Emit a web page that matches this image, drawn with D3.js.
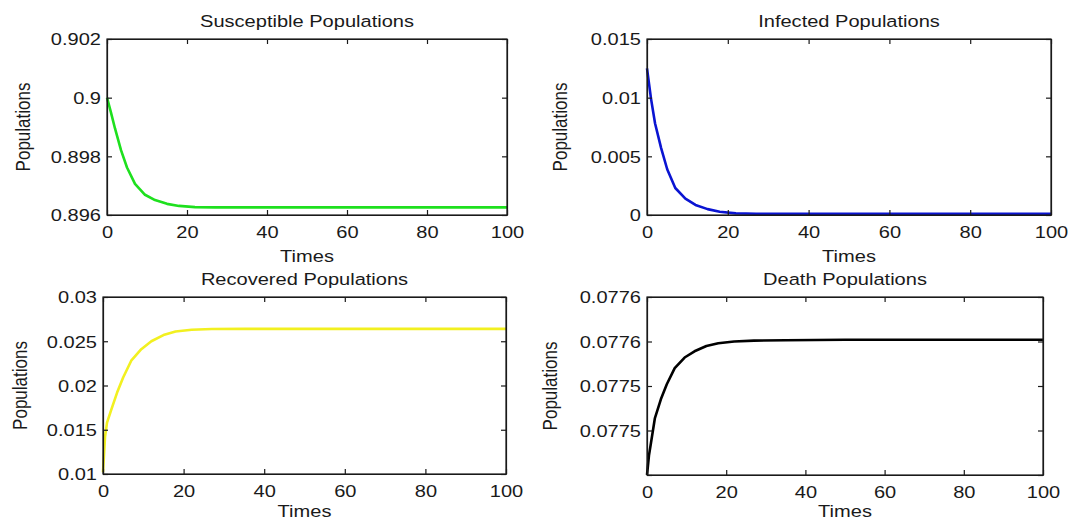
<!DOCTYPE html>
<html lang="en">
<head>
<meta charset="utf-8">
<script src="https://d3js.org/d3.v7.min.js"></script>
<style type="text/css">
body {
  margin: 0;
  background: #fff;
}
svg text {
  font-family: "Liberation Sans", Arial, sans-serif;
  fill: #1a1a1a;
}
.axis path,
.axis line {
  fill: none;
  stroke: #1a1a1a;
  stroke-width: 1.2;
}
.curve {
  fill: none;
  stroke-width: 2.6;
  stroke-linejoin: round;
}
</style>
<title>Populations</title>
</head>
<body>
<script type="text/javascript">
// time grid shared by all four series
var times = [0, 0.5, 1, 2, 3.5, 5, 7, 9.5, 12, 15, 18, 22, 27, 35, 50, 75, 100];

var susceptible = [0.9000, 0.89975, 0.89949, 0.89895, 0.89821, 0.89762, 0.89706, 0.89669, 0.89651,
                   0.89638, 0.89631, 0.89627, 0.89626, 0.89626, 0.89626, 0.89626, 0.89626];
var infected = [0.0125, 0.0112, 0.0099, 0.0078, 0.0057, 0.0039, 0.0023, 0.0014, 0.00086,
                0.0005, 0.00028, 0.00014, 0.00011, 0.0001, 0.0001, 0.0001, 0.0001];
var recovered = [0.0102, 0.0142, 0.0158, 0.0172, 0.0192, 0.0209, 0.0228, 0.0241, 0.0250,
                 0.0257, 0.0261, 0.0263, 0.02639, 0.0264, 0.0264, 0.0264, 0.0264];
var death = [0.07745, 0.077472, 0.077486, 0.077514, 0.077535, 0.077552, 0.07757, 0.077582, 0.077589,
             0.077595, 0.077598, 0.0776, 0.077601, 0.0776014, 0.077602, 0.077602, 0.077602];

var xTicks = [0, 20, 40, 60, 80, 100];
var sTicks = [0.896, 0.898, 0.9, 0.902];
var sLabels = ["0.896", "0.898", "0.9", "0.902"];
var iTicks = [0, 0.005, 0.01, 0.015];
var iLabels = ["0", "0.005", "0.01", "0.015"];
var rTicks = [0.01, 0.015, 0.02, 0.025, 0.03];
var rLabels = ["0.01", "0.015", "0.02", "0.025", "0.03"];
var dTicks = [0.07745, 0.0775, 0.07755, 0.0776, 0.07765];
var dLabels = ["", "0.0775", "0.0775", "0.0776", "0.0776"];

var titles = ["Susceptible Populations", "Infected Populations", "Recovered Populations", "Death Populations"];

// layout of the four boxes (left, top, right, bottom), ylabel offset, xlabel offset
var panels = [
  {series: susceptible, ticks: sTicks, labels: sLabels, color: "#1ee01e", box: [107, 39, 507, 215], yl: 77, xl: 47},
  {series: infected,    ticks: iTicks, labels: iLabels, color: "#0a14d2", box: [647, 39, 1051, 215], yl: 80, xl: 47},
  {series: recovered,   ticks: rTicks, labels: rLabels, color: "#f2f020", box: [103, 297, 506, 474], yl: 76, xl: 43},
  {series: death,       ticks: dTicks, labels: dLabels, color: "#000000", box: [647, 297, 1043, 475], yl: 90, xl: 42}
];

var sx = 1.18;   // the original figure is stretched horizontally
var fs = 17;

var svg = d3.select("body").append("svg")
    .attr("width", 1072)
    .attr("height", 522);

panels.forEach(function(p, k) {
  var L = p.box[0], T = p.box[1], R = p.box[2], B = p.box[3];
  var w = R - L, h = B - T;

  var x = d3.scaleLinear().domain([0, 100]).range([0, w]);
  var y = d3.scaleLinear().domain([p.ticks[0], p.ticks[p.ticks.length - 1]]).range([h, 0]);

  var g = svg.append("g").attr("transform", "translate(" + L + "," + T + ")");

  g.append("path")
    .datum(times.map(function(t, i) { return [t, p.series[i]]; }))
    .attr("class", "curve")
    .attr("stroke", p.color)
    .attr("d", d3.line().x(function(d) { return x(d[0]); }).y(function(d) { return y(d[1]); }));

  // box with inward ticks on every side
  var xb = g.append("g").attr("class", "axis").attr("transform", "translate(0," + h + ")")
    .call(d3.axisBottom(x).tickValues(xTicks).tickSizeInner(-5).tickSizeOuter(0).tickFormat(d3.format("d")));
  xb.selectAll("text").attr("y", 23).attr("dy", 0)
    .style("font-size", fs + "px")
    .attr("transform", "scale(" + sx + ",1)");

  g.append("g").attr("class", "axis")
    .call(d3.axisTop(x).tickValues(xTicks).tickSizeInner(-5).tickSizeOuter(0).tickFormat(""));

  var yl = g.append("g").attr("class", "axis")
    .call(d3.axisLeft(y).tickValues(p.ticks).tickSizeInner(-5).tickSizeOuter(0)
      .tickFormat(function(d, i) { return p.labels[i]; }));
  yl.selectAll("text")
    .attr("x", -6 / sx).attr("dy", "0.35em")
    .style("font-size", fs + "px")
    .attr("transform", "scale(" + sx + ",1)");

  g.append("g").attr("class", "axis").attr("transform", "translate(" + w + ",0)")
    .call(d3.axisRight(y).tickValues(p.ticks).tickSizeInner(-5).tickSizeOuter(0).tickFormat(""));

  g.append("rect")
    .attr("width", w).attr("height", h)
    .attr("fill", "none").attr("stroke", "#1a1a1a").attr("stroke-width", 1.2);

  g.append("text")
    .attr("transform", "translate(" + (w / 2) + "," + (-12) + ") scale(" + sx + ",1)")
    .attr("text-anchor", "middle")
    .style("font-size", fs + "px")
    .text(titles[k]);

  g.append("text")
    .attr("transform", "translate(" + (w / 2) + "," + (h + p.xl) + ") scale(" + sx + ",1)")
    .attr("text-anchor", "middle")
    .style("font-size", fs + "px")
    .text("Times");

  g.append("text")
    .attr("transform", "translate(" + (-p.yl) + "," + (h / 2) + ") scale(" + sx + ",1) rotate(-90)")
    .attr("text-anchor", "middle")
    .style("font-size", fs + "px")
    .text("Populations");
});
</script>
</body>
</html>
